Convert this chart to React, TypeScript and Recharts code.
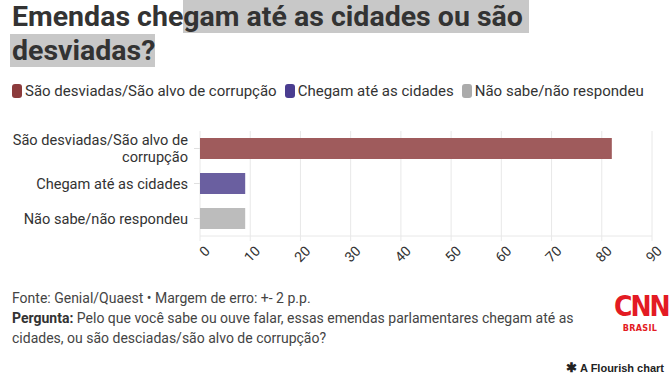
import React from "react";
import { BarChart, Bar, XAxis, YAxis, CartesianGrid, Cell } from "recharts";

const categories = [
  "São desviadas/São alvo de corrupção",
  "Chegam até as cidades",
  "Não sabe/não respondeu",
];
const values = [82, 9, 9];
const barColors = ["#9f5b5c", "#6a5fa0", "#bcbcbc"];
const legendColors = ["#8c3b3c", "#4a3d90", "#ababab"];
const xTicks = [0, 10, 20, 30, 40, 50, 60, 70, 80, 90];

const data = categories.map((name, i) => ({ name, value: values[i] }));

const FONT = "Roboto, sans-serif";

const wrap = (text: string, max: number) => {
  const words = text.split(" ");
  const lines: string[] = [];
  let cur = "";
  words.forEach((w) => {
    const next = cur ? cur + " " + w : w;
    if (next.length > max && cur) {
      lines.push(cur);
      cur = w;
    } else {
      cur = next;
    }
  });
  if (cur) lines.push(cur);
  return lines;
};

const CategoryTick = (props: any) => {
  const { x, y, payload } = props;
  const lines = wrap(payload.value, 25);
  const lh = 17;
  const start = y - ((lines.length - 1) * lh) / 2;
  return (
    <text x={x} y={start} textAnchor="end" fill="#333" fontSize={14.6} fontFamily={FONT} dominantBaseline="central">
      {lines.map((l, i) => (
        <tspan key={i} x={x} y={start + i * lh}>
          {l}
        </tspan>
      ))}
    </text>
  );
};

const ValueTick = (props: any) => {
  const { x, y, payload } = props;
  return (
    <g transform={`translate(${x + 4},${y + 2})`}>
      <text transform="rotate(-45)" textAnchor="end" fill="#333" fontSize={14} fontFamily={FONT} dy="0.7em">
        {payload.value}
      </text>
    </g>
  );
};

export default function App() {
  return (
    <div style={{ position: "absolute", left: 0, top: 0, width: 670, height: 380, background: "#fff", fontFamily: FONT, color: "#333" }}>
      <div style={{ position: "absolute", left: 12, top: 0, fontSize: 28.5, fontWeight: 700, lineHeight: "34px", color: "#333", whiteSpace: "nowrap" }}>
        Emendas che
        <span style={{ background: "#c8c8c8", paddingRight: 6 }}>gam até as cidades ou são</span>
        <br />
        <span style={{ background: "#c8c8c8", marginLeft: -2, paddingLeft: 2 }}>desviadas?</span>
      </div>

      <div style={{ position: "absolute", left: 12, top: 82, display: "flex", alignItems: "center", fontSize: 15, color: "#333" }}>
        {categories.map((c, i) => (
          <div key={c} style={{ display: "flex", alignItems: "center", marginRight: 8 }}>
            <span style={{ display: "inline-block", width: 10, height: 14, borderRadius: 3, background: legendColors[i], marginRight: 3 }} />
            <span>{c}</span>
          </div>
        ))}
      </div>

      <div style={{ position: "absolute", left: 0, top: 125 }}>
        <BarChart
          width={670}
          height={145}
          data={data}
          layout="vertical"
          margin={{ top: 6, right: 18, bottom: 0, left: 0 }}
          barCategoryGap="20%"
        >
          <CartesianGrid horizontal={false} stroke="#e8e8e8" />
          <XAxis
            type="number"
            domain={[0, 90]}
            ticks={xTicks}
            height={34}
            axisLine={{ stroke: "#e8e8e8" }}
            tickLine={{ stroke: "#e8e8e8" }}
            tickSize={5}
            tick={<ValueTick />}
            interval={0}
          />
          <YAxis
            type="category"
            dataKey="name"
            width={200}
            axisLine={false}
            tickLine={{ stroke: "#e0e0e0" }}
            tickSize={6}
            tickMargin={6}
            tick={<CategoryTick />}
            interval={0}
          />
          <Bar dataKey="value" isAnimationActive={false}>
            {data.map((d, i) => (
              <Cell key={d.name} fill={barColors[i]} />
            ))}
          </Bar>
        </BarChart>
      </div>

      <div style={{ position: "absolute", left: 12, top: 288, width: 600, fontSize: 14, lineHeight: "20px", color: "#444", whiteSpace: "nowrap" }}>
        <div>Fonte: Genial/Quaest • Margem de erro: +- 2 p.p.</div>
        <div>
          <b style={{ color: "#333" }}>Pergunta:</b> Pelo que você sabe ou ouve falar, essas emendas parlamentares chegam até as
        </div>
        <div>cidades, ou são desciadas/são alvo de corrupção?</div>
      </div>

      <div style={{ position: "absolute", left: 614, top: 291, width: 52, textAlign: "center", whiteSpace: "nowrap", color: "#e31b23", fontFamily: "'Liberation Sans Narrow', 'DejaVu Sans Condensed', sans-serif", fontWeight: 700, fontSize: 28, lineHeight: "32px", letterSpacing: -2 }}>
        CNN
      </div>
      <div style={{ position: "absolute", left: 614, top: 323, width: 52, textAlign: "center", whiteSpace: "nowrap", color: "#e31b23", fontFamily: "'Liberation Sans Narrow', 'DejaVu Sans Condensed', sans-serif", fontWeight: 700, fontSize: 9, lineHeight: "11px", letterSpacing: 0.3 }}>
        BRASIL
      </div>

      <div style={{ position: "absolute", right: 6, top: 360, fontSize: 11, fontWeight: 700, color: "#222", fontFamily: "'Liberation Sans', Arial, sans-serif" }}>
        <span style={{ fontSize: 13 }}>✱</span> A Flourish chart
      </div>
    </div>
  );
}
